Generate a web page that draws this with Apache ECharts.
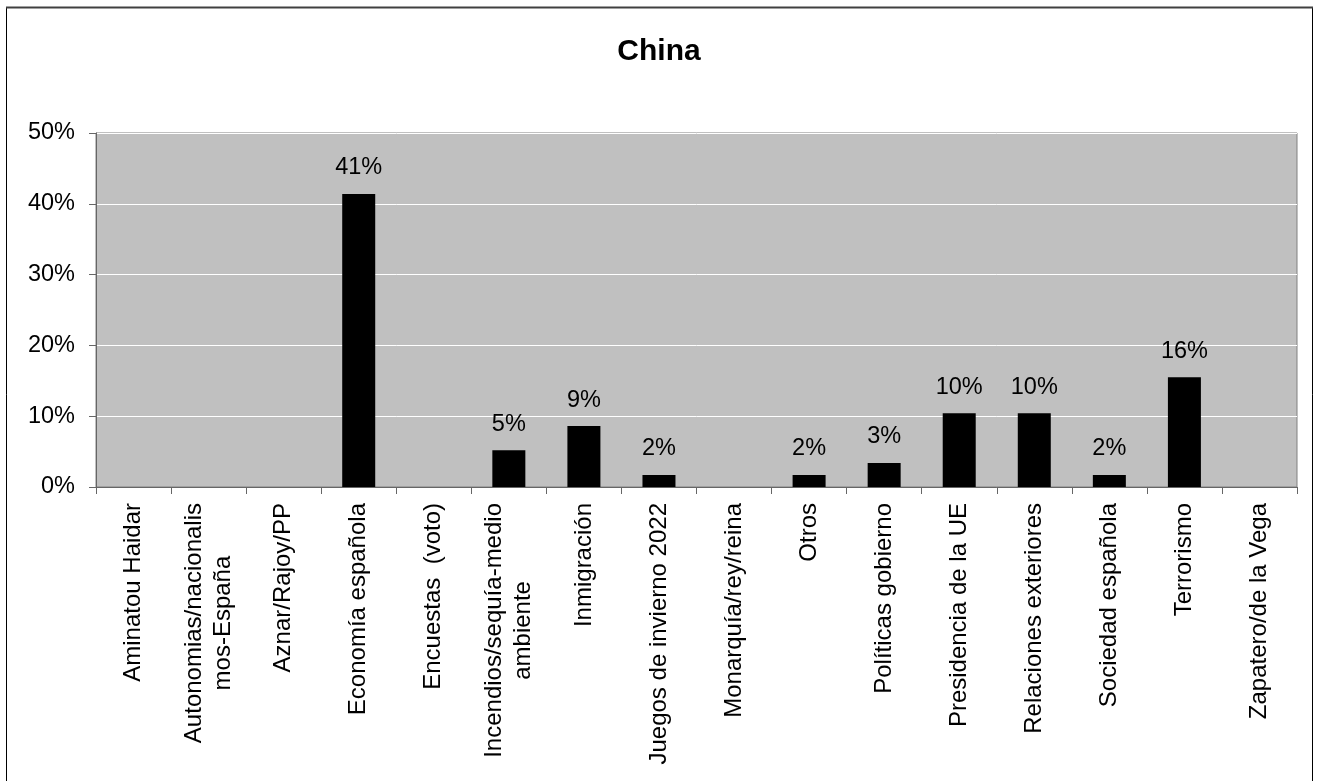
<!DOCTYPE html>
<html>
<head>
<meta charset="utf-8">
<script src="https://cdn.jsdelivr.net/npm/echarts@6/dist/echarts.min.js"></script>
<style>
  html, body { margin: 0; padding: 0; background: #ffffff; }
  #chart { width: 1318px; height: 781px; }
</style>
</head>
<body>
<div id="chart"></div>
<script>
const title = 'China';
const categories = [
  'Aminatou Haidar',
  'Autonomias/nacionalis\nmos-España',
  'Aznar/Rajoy/PP',
  'Economía española',
  'Encuestas  (voto)',
  'Incendios/sequía-medio\nambiente',
  'Inmigración',
  'Juegos de invierno 2022',
  'Monarquía/rey/reina',
  'Otros',
  'Políticas gobierno',
  'Presidencia de la UE',
  'Relaciones exteriores',
  'Sociedad española',
  'Terrorismo',
  'Zapatero/de la Vega'
];
const values = [0, 0, 0, 41.4, 0, 5.2, 8.6, 1.7, 0, 1.7, 3.4, 10.4, 10.4, 1.7, 15.5, 0];
const yTicks = { min: 0, max: 50, interval: 10 };

const FONT = '"Liberation Sans", Arial, sans-serif';
const chart = echarts.init(document.getElementById('chart'), null, { renderer: 'canvas' });

chart.setOption({
  backgroundColor: '#ffffff',
  animation: false,
  title: {
    text: title,
    left: 'center',
    top: 32,
    textStyle: { fontFamily: FONT, fontSize: 30, fontWeight: 'bold', color: '#000' }
  },
  graphic: [
    { type: 'rect', shape: { x: 6.5, y: 7.5, width: 1306, height: 800 },
      style: { fill: 'none', stroke: '#000', lineWidth: 1 }, silent: true },
    { type: 'line', shape: { x1: 6, y1: 7.5, x2: 1313, y2: 7.5 },
      style: { stroke: '#404040', lineWidth: 2 }, silent: true }
  ],
  grid: {
    left: 96, right: 21, top: 133, bottom: 294,
    show: true, backgroundColor: '#c0c0c0', borderColor: '#808080', borderWidth: 1
  },
  xAxis: {
    type: 'category',
    data: categories,
    axisLine: { lineStyle: { color: '#666', width: 1 } },
    axisTick: { show: true, length: 7, lineStyle: { color: '#666' } },
    axisLabel: {
      interval: 0,
      rotate: 90,
      margin: 16,
      fontFamily: FONT,
      fontSize: 24,
      color: '#000',
      lineHeight: 29,
      formatter: function (v) {
        if (v.indexOf('\n') >= 0) {
          return v.split('\n').map(function (l) { return '{c|' + l + '}'; }).join('\n');
        }
        return v;
      },
      rich: {
        c: { align: 'center', fontFamily: FONT, fontSize: 24, color: '#000', lineHeight: 29 }
      }
    },
    splitLine: { show: false }
  },
  yAxis: {
    type: 'value',
    min: yTicks.min,
    max: yTicks.max,
    interval: yTicks.interval,
    axisLine: { show: true, lineStyle: { color: '#666', width: 1 } },
    axisTick: { show: true, length: 7, lineStyle: { color: '#666' } },
    axisLabel: {
      formatter: '{value}%',
      margin: 21,
      fontFamily: FONT,
      fontSize: 23.5,
      color: '#000'
    },
    splitLine: { show: true, lineStyle: { color: '#ffffff', width: 1 } }
  },
  series: [{
    type: 'bar',
    data: values,
    barWidth: 33,
    itemStyle: { color: '#000000' },
    label: {
      show: true,
      position: 'top',
      distance: 14,
      fontFamily: FONT,
      fontSize: 23.5,
      color: '#000',
      formatter: function (p) { return p.value > 0 ? Math.round(p.value) + '%' : ''; }
    }
  }]
});
</script>
</body>
</html>
